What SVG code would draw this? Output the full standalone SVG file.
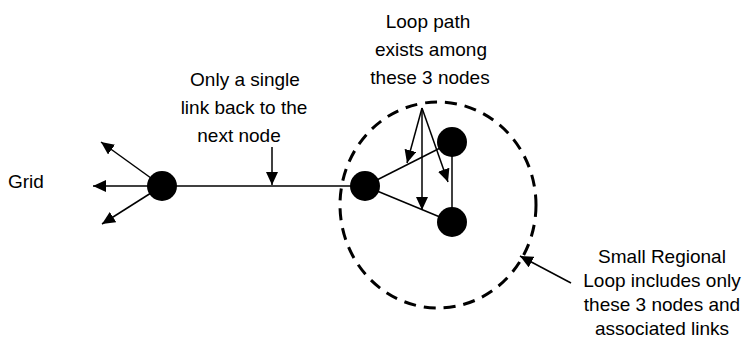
<svg xmlns="http://www.w3.org/2000/svg" width="750" height="340" viewBox="0 0 750 340">
<style>
text{font-family:"Liberation Sans",Arial,sans-serif;font-size:19px;fill:#000}
.ln{stroke:#000;stroke-width:1.5;fill:none}
.ar{stroke:#000;stroke-width:1.5;fill:none;marker-end:url(#ah)}
.nd{fill:#000}
</style>
<defs>
<marker id="ah" markerUnits="userSpaceOnUse" markerWidth="14" markerHeight="12" refX="13" refY="6" orient="auto">
<path d="M0,0 L13,6 L0,12 Z" fill="#000"/>
</marker>
</defs>
<rect width="750" height="340" fill="#fff"/>
<g id="connectors">
<line class="ar" x1="162" y1="186" x2="101" y2="142"/>
<line class="ar" x1="162" y1="186" x2="93" y2="186"/>
<line class="ar" x1="162" y1="186" x2="102" y2="224"/>
<line class="ln" x1="162" y1="186" x2="365" y2="186"/>
<line class="ar" x1="272" y1="147" x2="272" y2="185"/>
<line class="ln" x1="365" y1="186" x2="452" y2="142"/>
<line class="ln" x1="365" y1="186" x2="452" y2="222"/>
<line class="ln" x1="452" y1="142" x2="452" y2="222"/>
<line class="ar" x1="422" y1="108" x2="407" y2="163"/>
<line class="ar" x1="422" y1="108" x2="422" y2="210"/>
<line class="ar" x1="422" y1="108" x2="448" y2="182"/>
<line class="ar" x1="571" y1="283" x2="520" y2="256"/>
</g>
<g id="loop-region">
<ellipse cx="438" cy="205" rx="98" ry="103" fill="none" stroke="#000" stroke-width="3" stroke-dasharray="12 8"/>
</g>
<g id="node-grid-hub"><circle class="nd" cx="162" cy="186" r="15"/></g>
<g id="node-a"><circle class="nd" cx="365" cy="186" r="15"/></g>
<g id="node-b"><circle class="nd" cx="452" cy="142" r="15"/></g>
<g id="node-c"><circle class="nd" cx="452" cy="222" r="15"/></g>
<g id="labels">
<text x="8" y="188">Grid</text>
<text text-anchor="middle" x="245" y="86">Only a single</text>
<text text-anchor="middle" x="244" y="114">link back to the</text>
<text text-anchor="middle" x="239" y="142">next node</text>
<text text-anchor="middle" x="428" y="28">Loop path</text>
<text text-anchor="middle" x="431" y="56">exists among</text>
<text text-anchor="middle" x="430" y="84">these 3 nodes</text>
<text text-anchor="middle" x="662" y="263">Small Regional</text>
<text text-anchor="middle" x="662" y="287">Loop includes only</text>
<text text-anchor="middle" x="662" y="311">these 3 nodes and</text>
<text text-anchor="middle" x="662" y="335">associated links</text>
</g>
</svg>
